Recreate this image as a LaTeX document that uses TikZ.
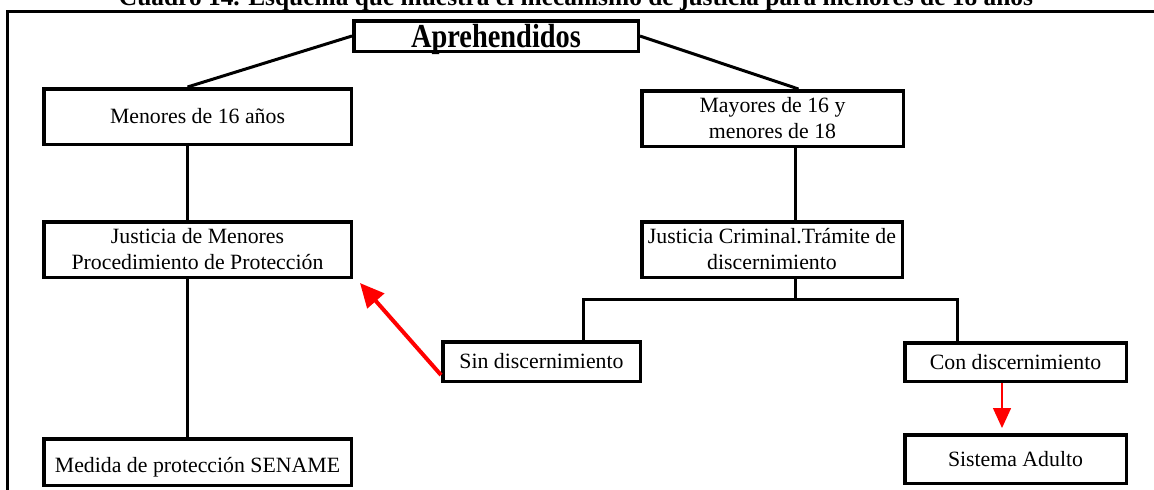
\documentclass[tikz,border=0pt]{standalone}
\usepackage{fontspec}
\setmainfont{Liberation Serif}
\usetikzlibrary{arrows.meta}

\begin{document}
\begin{tikzpicture}[x=0.5pt,y=-0.5pt,
    caja/.style={draw, line width=1.75pt, align=center, inner sep=0pt,
      font=\fontsize{10.9}{13}\selectfont},
    linea/.style={line width=1.5pt},
    flecha/.style={red, -{Triangle[length=12pt,width=11pt]}}]
    \useasboundingbox (0,0) rectangle (1154,489);
    \clip (0,0) rectangle (1154,489);

    % Titulo y marco
    \node[anchor=base, font=\fontsize{12.7}{14}\selectfont\bfseries] (titulo) at (576,5)
      {Cuadro 14. Esquema que muestra el mecanismo de justicia para menores de 18 años};
    \draw[linea] (1160,11) -| (7,495);

    % Aprehendidos
    \node[caja, minimum width=142.25pt, minimum height=15.25pt,
      font=\fontsize{14.2}{16}\selectfont\bfseries] (aprehend) at (496,36)
      {\raisebox{-1.5pt}[\height][\depth]{\scalebox{1}[1.18]{Aprehendidos}}};

    % Menores de 16
    \node[caja, minimum width=153.75pt, minimum height=27.75pt] (menores) at (197.5,116.5)
      {Menores de 16 años};
    \node[caja, minimum width=153.75pt, minimum height=27.75pt] (justmen) at (197.5,249.5)
      {Justicia de Menores\\Procedimiento de Protección};
    \node[caja, minimum width=153.75pt, minimum height=23.25pt] (medida) at (197.5,462)
      {\raisebox{-2.5pt}[\height][\depth]{Medida de protección SENAME}};

    % Mayores de 16
    \node[caja, minimum width=130.75pt, minimum height=27.75pt] (mayores) at (772.5,118.5)
      {Mayores de 16 y\\menores de 18};
    \node[caja, minimum width=130.25pt, minimum height=27.75pt] (justcrim) at (772,249.5)
      {Justicia Criminal.Trámite de\\discernimiento};
    \node[caja, minimum width=98.75pt, minimum height=19.75pt] (sin) at (541.5,361.5)
      {Sin discernimiento};
    \node[caja, minimum width=110.75pt, minimum height=19.25pt] (con) at (1015.5,362)
      {Con discernimiento};
    \node[caja, minimum width=110.75pt, minimum height=24.25pt] (sistema) at (1015.5,459)
      {Sistema Adulto};
    \coordinate (split) at (795,299);

    % Lineas
    \draw[linea] (aprehend.west) -- ([xshift=-5pt]menores.north);
    \draw[linea] (aprehend.east) -- ([xshift=13pt]mayores.north);
    \draw[linea] ([xshift=-5.25pt]menores.south) -- ([xshift=-5.25pt]justmen.north);
    \draw[linea] ([xshift=-5.25pt]justmen.south) -- ([xshift=-5.25pt]medida.north);
    \draw[linea] ([xshift=11.25pt]mayores.south) -- ([xshift=11.5pt]justcrim.north);
    \draw[linea] ([xshift=11.5pt]justcrim.south) -- (split);
    \draw[linea] ([xshift=20.75pt]sin.north) |- (split) -| ([xshift=-29.25pt]con.north);

    % Flechas rojas
    \draw[flecha, line width=2pt] ([yshift=4pt]sin.south west)
      -- ([xshift=3.5pt,yshift=-2pt]justmen.south east);
    \draw[flecha, line width=0.75pt, -{Triangle[length=10pt,width=9pt]}, shorten >=2.5pt]
      ([xshift=-6.75pt]con.south) -- ([xshift=-6.75pt]sistema.north);
\end{tikzpicture}
\end{document}
